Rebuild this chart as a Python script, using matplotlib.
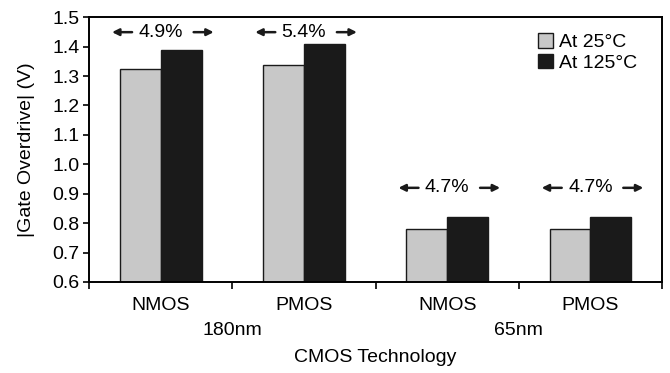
import matplotlib.pyplot as plt
import numpy as np

plt.rcParams.update({
    "font.family": ["Liberation Sans", "DejaVu Sans"],
    "font.size": 14,
    "axes.linewidth": 1.4,
    "xtick.major.width": 1.2,
    "ytick.major.width": 1.2,
    "xtick.minor.width": 1.2,
})

devices = ["NMOS", "PMOS", "NMOS", "PMOS"]
nodes = ["180nm", "65nm"]
v_25c = [1.325, 1.338, 0.780, 0.780]
v_125c = [1.390, 1.408, 0.820, 0.820]
shift_labels = ["4.9%", "5.4%", "4.7%", "4.7%"]
label_y = [1.449, 1.449, 0.920, 0.920]

x = np.arange(len(devices))
w = 0.285

fig = plt.figure(figsize=(6.7, 3.73), dpi=100)
ax = fig.add_axes([0.133, 0.244, 0.855, 0.71])

ax.bar(x - w / 2, v_25c, w, color="#C8C8C8", edgecolor="#1A1A1A", linewidth=1.0, label="At 25°C", zorder=2)
ax.bar(x + w / 2, v_125c, w, color="#1A1A1A", edgecolor="#1A1A1A", linewidth=1.0, label="At 125°C", zorder=2)

# percentage increase marked between arrows above each pair
arrow = dict(arrowstyle="-|>", color="#1A1A1A", lw=1.8, mutation_scale=10,
             shrinkA=0, shrinkB=0)
for xi, txt, yl in zip(x, shift_labels, label_y):
    ax.text(xi, yl, txt, ha="center", va="center")
    ax.annotate("", xy=(xi - 0.34, yl), xytext=(xi - 0.20, yl), arrowprops=arrow)
    ax.annotate("", xy=(xi + 0.37, yl), xytext=(xi + 0.23, yl), arrowprops=arrow)

ax.set_xlim(-0.5, len(devices) - 0.5)
ax.set_ylim(0.6, 1.5)
ax.set_yticks(np.arange(0.6, 1.51, 0.1))
ax.set_yticklabels([f"{v:.1f}" for v in np.arange(0.6, 1.51, 0.1)])
ax.tick_params(axis="y", direction="out", length=4, pad=3)

ax.set_xticks(x)
ax.set_xticklabels(devices)
ax.tick_params(axis="x", which="major", length=0, pad=11)
ax.set_xticks(np.arange(-0.5, len(devices), 1.0), minor=True)
ax.tick_params(axis="x", which="minor", direction="out", length=5)

for i, node in enumerate(nodes):
    ax.text(0.5 + 2 * i, -0.185, node, transform=ax.get_xaxis_transform(),
            ha="center", va="center")
ax.text(0.5, -0.285, "CMOS Technology", transform=ax.transAxes, ha="center", va="center")

ax.set_ylabel("|Gate Overdrive| (V)", labelpad=12)

ax.legend(loc="upper right", bbox_to_anchor=(0.98, 0.99), frameon=False,
          handlelength=0.75, handleheight=0.75, handletextpad=0.3,
          borderaxespad=0.3, labelspacing=0.15)

fig.savefig("out.png", dpi=100)
